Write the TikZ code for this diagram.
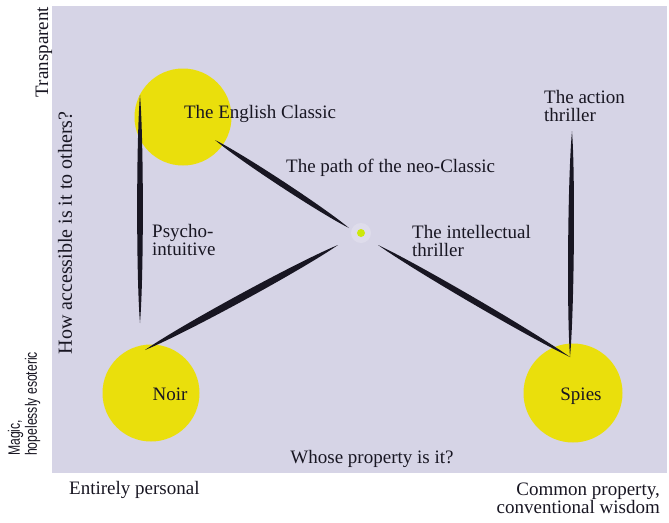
\documentclass[tikz,border=0pt]{standalone}
\usepackage{fontspec}
\setmainfont{Liberation Serif}
\setsansfont{Liberation Sans}
\newfontfamily\narrowsans[FakeStretch=0.74]{Liberation Sans}
\usepackage{tikz}
\usetikzlibrary{calc}
\definecolor{panelgrey}{RGB}{214,212,230}
\definecolor{blobyellow}{RGB}{234,223,12}
\definecolor{dotlime}{RGB}{205,232,10}
\definecolor{inkdark}{RGB}{24,22,34}

\newcommand{\spindle}[3]{%
  \fill[inkdark] (#1) .. controls ($(#1)!0.2!(#2)!#3!90:(#2)$) and ($(#1)!0.8!(#2)!#3!90:(#2)$) .. (#2)
    .. controls ($(#1)!0.8!(#2)!#3!-90:(#2)$) and ($(#1)!0.2!(#2)!#3!-90:(#2)$) .. (#1) -- cycle;}

\begin{document}
\begin{tikzpicture}[x=1pt, y=-1pt,
    blob/.style={circle, fill=blobyellow, minimum size=97pt, inner sep=0pt},
    txt/.style={font=\fontsize{19}{18}\selectfont, text=inkdark, inner sep=0pt, align=left},
    axis/.style={txt, rotate=90}]
    \useasboundingbox (0,0) rectangle (669,522);
    \fill[panelgrey] (52,6) rectangle (667,473);

    \node[blob] (classic) at (183,117) {};
    \node[blob] (noir) at (151,393) {};
    \node[blob, minimum size=99pt] (spies) at (573,393) {};
    \fill[white, opacity=0.2] (361,233) circle (10pt);
    \node[circle, fill=dotlime, minimum size=8pt, inner sep=0pt] (neo) at (361,233) {};

    \coordinate (classicTop) at (140,95);
    \coordinate (noirTop) at (140,323);
    \coordinate (classicOut) at (215,140);
    \coordinate (neoIn) at (349,228);
    \coordinate (noirOut) at (145,350);
    \coordinate (neoLeft) at (338,245);
    \coordinate (neoRight) at (378,245);
    \coordinate (spiesIn) at (570,357);
    \coordinate (spiesTop) at (572,131);

    \spindle{classicTop}{noirTop}{3.8pt}
    \spindle{classicOut}{neoIn}{3.8pt}
    \spindle{noirOut}{neoLeft}{4.8pt}
    \spindle{neoRight}{spiesIn}{4pt}
    \spindle{spiesTop}{spiesIn}{3.8pt}

    \node[txt] (classicTxt) at (260,114) {The English Classic};
    \node[txt] (noirTxt) at (170,394) {Noir};
    \node[txt] (spiesTxt) at (581,396) {Spies};
    \node[txt, anchor=west] (neoTxt) at (286,168) {The path of the neo-Classic};
    \node[txt, anchor=west] (psychoTxt) at (152,240) {Psycho-\\intuitive};
    \node[txt, anchor=west] (intelTxt) at (412,241) {The intellectual\\thriller};
    \node[txt, anchor=west] (actionTxt) at (544,106) {The action\\thriller};

    \node[txt] (whoseTxt) at (372,459) {Whose property is it?};
    \node[txt, anchor=west] (personalTxt) at (69,490) {Entirely personal};
    \node[txt, anchor=east, align=right] (commonTxt) at (660,498) {Common property,\\conventional wisdom};

    \node[axis] (transTxt) at (44,52) {Transparent};
    \node[axis, font=\fontsize{20}{18}\selectfont] (howTxt) at (65,233) {How accessible is it to others?};
    \node[axis, anchor=west, font=\narrowsans\fontsize{16.5}{17}\selectfont] (magicTxt) at (24,456) {Magic,\\hopelessly esoteric};
\end{tikzpicture}
\end{document}
